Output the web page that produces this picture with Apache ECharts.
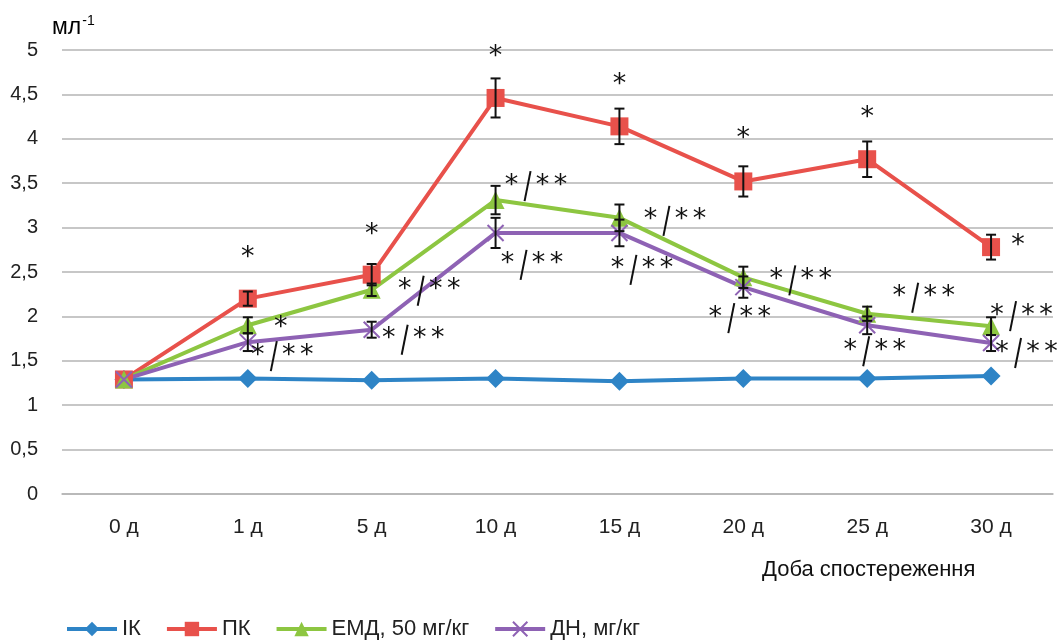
<!DOCTYPE html>
<html><head><meta charset="utf-8">
<script src="https://cdn.jsdelivr.net/npm/echarts@6/dist/echarts.min.js"></script>
<style>html,body{margin:0;padding:0;background:#fff}#c{width:1064px;height:642px}</style>
</head><body><div id="c"></div>
<script>
const categories = ['0 д','1 д','5 д','10 д','15 д','20 д','25 д','30 д'];
const yTicks = [0,0.5,1,1.5,2,2.5,3,3.5,4,4.5,5];
const ik  = [1.29,1.30,1.28,1.30,1.27,1.30,1.30,1.33];
const pk  = [1.29,2.20,2.47,4.46,4.14,3.52,3.77,2.78];
const emd = [1.29,1.90,2.30,3.31,3.11,2.44,2.03,1.89];
const dn  = [1.29,1.71,1.85,2.94,2.94,2.33,1.90,1.70];
const pkErr  = [0,0.08,0.12,0.22,0.20,0.17,0.20,0.14];
const emdErr = [0,0.09,0.07,0.16,0.15,0.12,0.08,0.10];
const dnErr  = [0,0.10,0.09,0.17,0.15,0.12,0.10,0.09];
const pkMarks  = ['','*','*','*','*','*','*','*'];
const emdMarks = ['','*','*/**','*/**','*/**','*/**','*/**','*/**'];
const dnMarks  = ['','*/**','*/**','*/**','*/**','*/**','*/**','*/**'];
const seriesNames = ['ІК','ПК','ЕМД, 50 мг/кг','ДН, мг/кг'];

// annotation layout offsets (pixels) relative to the data point, kept apart from the data
const pkOff  = [null,[0,-48],[0,-47],[0,-48],[0,-49],[0,-50],[0,-49],[27,-9]];
const emdOff = [null,[33,-5],[57,-7],[40,-22],[55,-5],[57,-5],[56,-24],[30,-18]];
const dnOff  = [null,[34,6],[41,2],[36,24],[22,29],[-4,23],[7,18],[35,2]];

const colors = {ik:'#2E84C6', pk:'#E8514B', emd:'#8DC641', dn:'#8E62B4'};
const crossPath = 'path://M0,0L10,10M10,0L0,10';

function errSeries(vals, errs){
  return {
    type:'custom', z:10, silent:true,
    data: vals.map((v,i)=>[i,v,errs[i]]),
    renderItem:(params, api)=>{
      const i=api.value(0), v=api.value(1), e=api.value(2);
      if(!e) return null;
      const top=api.coord([i,v+e]), bot=api.coord([i,v-e]);
      const w=5;
      const st={stroke:'#111',lineWidth:2};
      return {type:'group',children:[
        {type:'line',shape:{x1:top[0],y1:top[1],x2:bot[0],y2:bot[1]},style:st},
        {type:'line',shape:{x1:top[0]-w,y1:top[1],x2:top[0]+w,y2:top[1]},style:st},
        {type:'line',shape:{x1:bot[0]-w,y1:bot[1],x2:bot[0]+w,y2:bot[1]},style:st}
      ]};
    }
  };
}
const STAR_FONT = '27px "DejaVu Sans"';
function star(x, y){
  return {type:'text', x:x, y:y+7.5, style:{text:'*', font:STAR_FONT, fill:'#111', align:'center', verticalAlign:'middle'}};
}
function markSeries(vals, marks, offs){
  return {
    type:'custom', z:20, silent:true,
    data: vals.map((v,i)=>[i,v]),
    renderItem:(params, api)=>{
      const k=params.dataIndex, m=marks[k], o=offs[k];
      if(!m || !o) return null;
      const p=api.coord([api.value(0), api.value(1)]);
      const cx=p[0]+o[0], cy=p[1]+o[1];
      if(m==='*') return star(cx, cy);
      return {type:'group', children:[
        star(cx-24, cy),
        {type:'line', shape:{x1:cx-5, y1:cy-7, x2:cx-11, y2:cy+23}, style:{stroke:'#111', lineWidth:2}},
        star(cx+7, cy),
        star(cx+25, cy)
      ]};
    }
  };
}
function lineSeries(name, vals, color, symbol, size, extra){
  return Object.assign({
    name, type:'line', data:vals, symbol, symbolSize:size,
    lineStyle:{color, width:4}, itemStyle:{color}, z:5
  }, extra||{});
}

const chart = echarts.init(document.getElementById('c'));
chart.setOption({
  animation:false,
  grid:{left:62, right:11, top:50, bottom:148, outerBoundsMode:'none', containLabel:false},
  xAxis:{type:'category', data:categories, boundaryGap:true,
    axisTick:{show:false}, axisLine:{lineStyle:{color:'#b5b5b5', width:1.5}},
    axisLabel:{fontFamily:'Liberation Sans', fontSize:21, color:'#222', margin:23}
  },
  yAxis:{type:'value', min:yTicks[0], max:yTicks[yTicks.length-1], interval:0.5,
    axisLine:{show:false}, axisTick:{show:false},
    splitLine:{lineStyle:{color:'#b5b5b5', width:1.5}},
    axisLabel:{fontFamily:'Liberation Sans', fontSize:20, color:'#222', margin:24,
      formatter:v=>String(v).replace('.',',')}
  },
  graphic:[
    {type:'text', left:52, top:14, style:{text:'{m|мл}{p|-1}', rich:{
      m:{fontFamily:'Liberation Sans', fontSize:23, color:'#111'},
      p:{fontFamily:'Liberation Sans', fontSize:14, color:'#111', padding:[0,0,14,1]}
    }}},
    {type:'text', left:762, top:559, style:{text:'Доба спостереження', fontFamily:'Liberation Sans', fontSize:22, fill:'#111'}}
  ],
  legend:{left:65, top:618, padding:0, itemWidth:50, itemHeight:18, itemGap:24,
    lineStyle:{width:4},
    textStyle:{fontFamily:'Liberation Sans', fontSize:22, color:'#222'},
    data:seriesNames},
  series:[
    lineSeries(seriesNames[0], ik, colors.ik, 'diamond', 19),
    lineSeries(seriesNames[1], pk, colors.pk, 'rect', 18),
    lineSeries(seriesNames[2], emd, colors.emd, 'triangle', 18),
    lineSeries(seriesNames[3], dn, colors.dn, crossPath, 16, {itemStyle:{color:colors.dn, borderColor:colors.dn, borderWidth:2}}),
    errSeries(pk, pkErr), errSeries(emd, emdErr), errSeries(dn, dnErr),
    markSeries(pk, pkMarks, pkOff), markSeries(emd, emdMarks, emdOff), markSeries(dn, dnMarks, dnOff)
  ]
});
</script></body></html>
